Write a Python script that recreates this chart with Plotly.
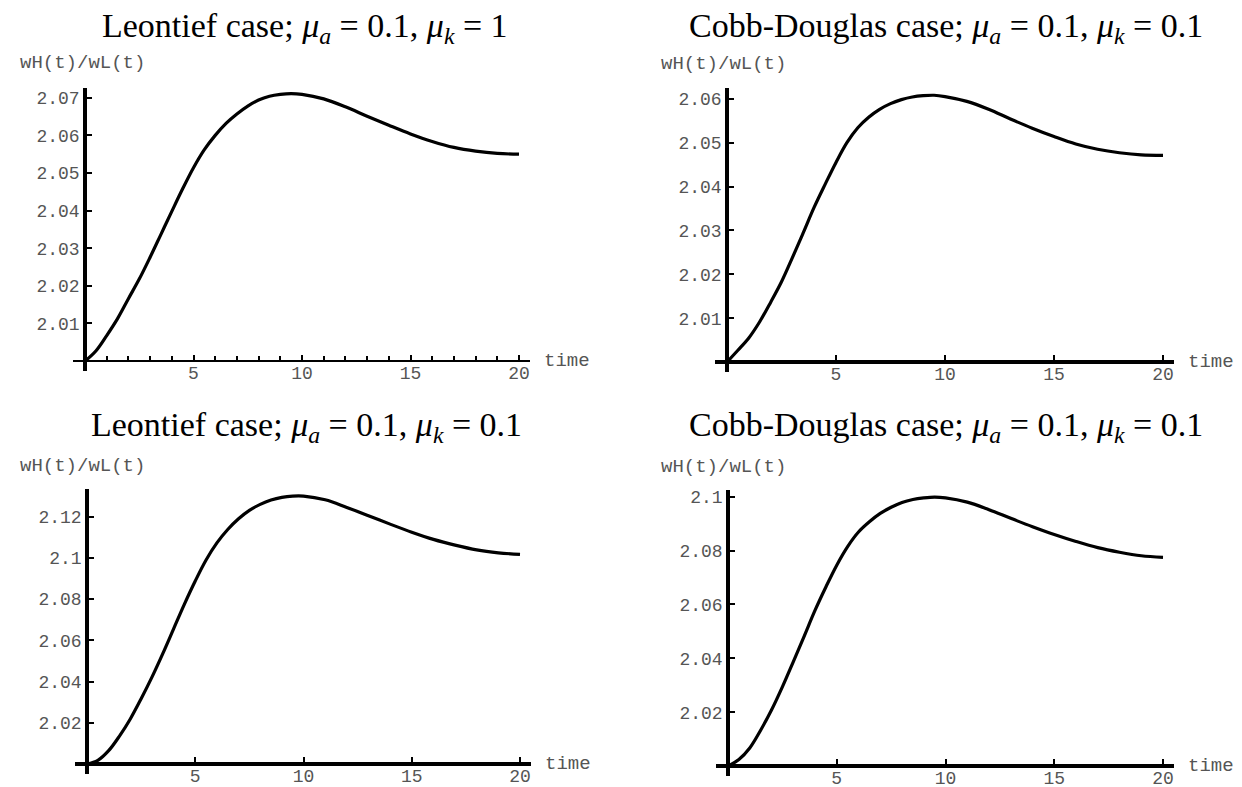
import plotly.graph_objects as go

# ---------------- data ----------------
time = [0, 0.5, 1, 1.5, 2, 2.5, 3, 3.5, 4, 4.5, 5, 5.5, 6, 6.5, 7, 7.5, 8, 8.5, 9, 9.5,
        10, 11, 12, 13, 14, 15, 16, 17, 18, 19, 20]

leontief_mk1 = [2.0000, 2.0027, 2.0068, 2.0113, 2.0166, 2.0218, 2.0276, 2.0337, 2.0398, 2.0458,
                2.0514, 2.0562, 2.0600, 2.0632, 2.0657, 2.0678, 2.0694, 2.0704, 2.0709, 2.0711,
                2.0709, 2.0697, 2.0676, 2.0651, 2.0627, 2.0604, 2.0584, 2.0568, 2.0558, 2.0552, 2.0550]

cobb_top = [2.0000, 2.0027, 2.0055, 2.0092, 2.0136, 2.0183, 2.0238, 2.0295, 2.0353, 2.0405,
            2.0455, 2.0500, 2.0534, 2.0558, 2.0576, 2.0589, 2.0598, 2.0604, 2.0607, 2.0608,
            2.0605, 2.0594, 2.0576, 2.0554, 2.0533, 2.0514, 2.0497, 2.0485, 2.0477, 2.0472, 2.0471]

leontief_mk01 = [2.0000, 2.0018, 2.0065, 2.0136, 2.0219, 2.0317, 2.0422, 2.0536, 2.0656, 2.0776,
                 2.0888, 2.0990, 2.1073, 2.1138, 2.1190, 2.1231, 2.1260, 2.1281, 2.1294, 2.1300,
                 2.1300, 2.1282, 2.1245, 2.1205, 2.1164, 2.1125, 2.1090, 2.1062, 2.1039, 2.1025, 2.1017]

cobb_bottom = [2.0000, 2.0024, 2.0067, 2.0133, 2.0208, 2.0294, 2.0387, 2.0482, 2.0578, 2.0665,
               2.0746, 2.0815, 2.0869, 2.0907, 2.0938, 2.0961, 2.0979, 2.0990, 2.0996, 2.0999,
               2.0996, 2.0980, 2.0952, 2.0920, 2.0889, 2.0860, 2.0834, 2.0811, 2.0794, 2.0781, 2.0775]

x_ticks = [5, 10, 15, 20]
x_tick_labels = ["5", "10", "15", "20"]
y_ticks_1 = [2.01, 2.02, 2.03, 2.04, 2.05, 2.06, 2.07]
y_labels_1 = ["2.01", "2.02", "2.03", "2.04", "2.05", "2.06", "2.07"]
y_ticks_2 = [2.01, 2.02, 2.03, 2.04, 2.05, 2.06]
y_labels_2 = ["2.01", "2.02", "2.03", "2.04", "2.05", "2.06"]
y_ticks_3 = [2.02, 2.04, 2.06, 2.08, 2.10, 2.12]
y_labels_3 = ["2.02", "2.04", "2.06", "2.08", "2.1", "2.12"]
y_ticks_4 = [2.02, 2.04, 2.06, 2.08, 2.10]
y_labels_4 = ["2.02", "2.04", "2.06", "2.08", "2.1"]

mu = "<i>μ</i>"
titles = [
    f"Leontief case; {mu}<sub><i>a</i></sub> = 0.1, {mu}<sub><i>k</i></sub> = 1",
    f"Cobb-Douglas case; {mu}<sub><i>a</i></sub> = 0.1, {mu}<sub><i>k</i></sub> = 0.1",
    f"Leontief case; {mu}<sub><i>a</i></sub> = 0.1, {mu}<sub><i>k</i></sub> = 0.1",
    f"Cobb-Douglas case; {mu}<sub><i>a</i></sub> = 0.1, {mu}<sub><i>k</i></sub> = 0.1",
]
y_axis_label = "wH(t)/wL(t)"
x_axis_label = "time"

series = [leontief_mk1, cobb_top, leontief_mk01, cobb_bottom]
yticks = [(y_ticks_1, y_labels_1), (y_ticks_2, y_labels_2),
          (y_ticks_3, y_labels_3), (y_ticks_4, y_labels_4)]

# ---------------- layout (pixels) ----------------
W, H = 1242, 787
panels = [
    dict(x0=77, x20=511, y0=352, yref=2.07, yrefpx=88, ytop=2.0725,
         tx=297, ty=18, lx=10, ly=53, xlw=2, minor=True),
    dict(x0=719, x20=1155, y0=353, yref=2.06, yrefpx=89, ytop=2.0624,
         tx=938, ty=18, lx=651, ly=54, xlw=3.5, minor=False),
    dict(x0=79, x20=512, y0=756, yref=2.12, yrefpx=508, ytop=2.1334,
         tx=298, ty=418, lx=10, ly=457, xlw=3.5, minor=False),
    dict(x0=720, x20=1155, y0=758, yref=2.10, yrefpx=488, ytop=2.1025,
         tx=938, ty=418, lx=651, ly=458, xlw=3.5, minor=False),
]

STUB_X = 12   # px the x-axis extends left of the origin
STUB_Y = 10   # px the y-axis extends below the origin
X_END = 20.5

mono = "Liberation Mono, DejaVu Sans Mono, monospace"
tick_font = dict(family=mono, size=18, color="#555555")
label_font = dict(family=mono, size=19, color="#555555")
title_font = dict(family="Liberation Serif, DejaVu Serif, serif", size=34, color="black")

fig = go.Figure()
annotations = []

for i, p in enumerate(panels):
    n = i + 1
    xs = "" if n == 1 else str(n)
    xscale = (p["x20"] - p["x0"]) / 20.0
    yscale = (p["y0"] - p["yrefpx"]) / (p["yref"] - 2.0)
    x_left_px = p["x0"] - STUB_X
    x_right_px = p["x0"] + X_END * xscale
    y_bot_px = p["y0"] + STUB_Y
    y_top_px = p["y0"] - (p["ytop"] - 2.0) * yscale

    xr = [-STUB_X / xscale, X_END]
    yr = [2.0 - STUB_Y / yscale, p["ytop"]]

    fig.add_trace(go.Scatter(
        x=time, y=series[i], mode="lines", line=dict(color="black", width=3.2, shape="spline"),
        xaxis="x" + xs, yaxis="y" + xs, showlegend=False, hoverinfo="skip", cliponaxis=False))

    xa = dict(domain=[x_left_px / W, x_right_px / W], range=xr, anchor="free",
              position=(H - p["y0"]) / H, showline=True, linecolor="black",
              linewidth=p["xlw"], ticks="inside", ticklen=5, tickwidth=1.5,
              tickcolor="black", tickvals=x_ticks, ticktext=x_tick_labels,
              tickfont=tick_font, ticklabelstandoff=-5,
              showgrid=False, zeroline=False, fixedrange=True)
    if p["minor"]:
        xa["minor"] = dict(dtick=1, tick0=0, ticks="inside", ticklen=4, tickwidth=1.5,
                           tickcolor="black", showgrid=False)
    ya = dict(domain=[(H - y_bot_px) / H, (H - y_top_px) / H], range=yr, anchor="free",
              position=p["x0"] / W, showline=True, linecolor="black", linewidth=3.5,
              ticks="inside", ticklen=5, tickwidth=1.5, tickcolor="black",
              tickvals=yticks[i][0], ticktext=yticks[i][1], tickfont=tick_font,
              showgrid=False, zeroline=False, fixedrange=True)
    fig.update_layout(**{"xaxis" + xs: xa, "yaxis" + xs: ya})

    annotations.append(dict(text=titles[i], x=p["tx"] / W, y=(H - p["ty"]) / H,
                            xref="paper", yref="paper", xanchor="center", yanchor="middle",
                            showarrow=False, font=title_font))
    annotations.append(dict(text=y_axis_label, x=p["lx"] / W, y=(H - p["ly"]) / H,
                            xref="paper", yref="paper", xanchor="left", yanchor="middle",
                            showarrow=False, font=label_font))
    annotations.append(dict(text=x_axis_label, x=X_END, y=2.0, xref="x" + xs, yref="y" + xs,
                            xanchor="left", yanchor="middle", xshift=12,
                            showarrow=False, font=label_font))

fig.update_layout(width=W, height=H, margin=dict(l=0, r=0, t=0, b=0),
                  paper_bgcolor="white", plot_bgcolor="white",
                  annotations=annotations, showlegend=False)

fig.write_html("out.html", config={"displayModeBar": False})
